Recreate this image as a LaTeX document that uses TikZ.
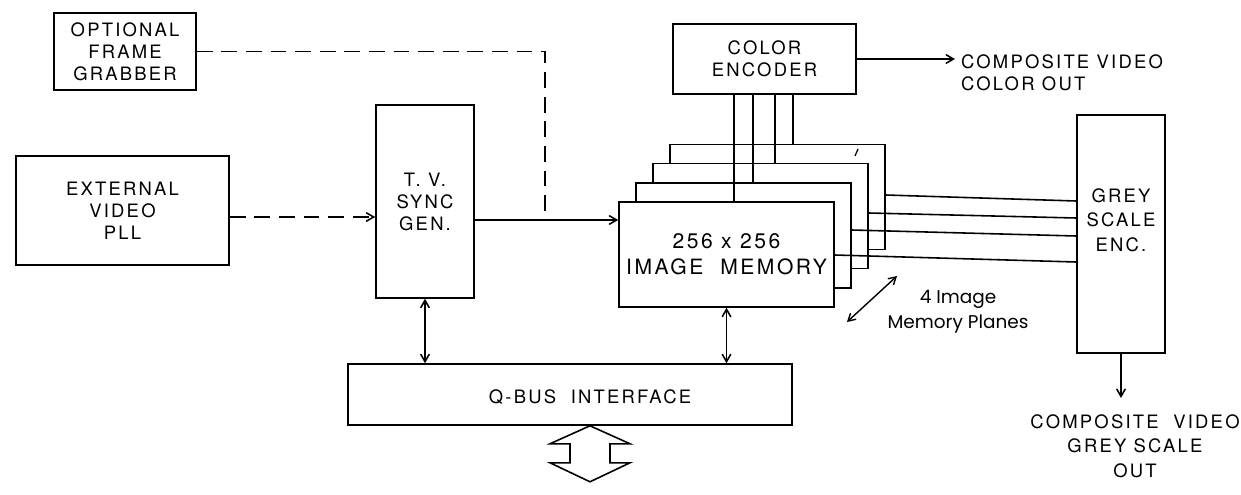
\documentclass[tikz,border=0pt]{standalone}
\usepackage{fontspec}
\setmainfont{TeX Gyre Heros}[LetterSpace=12]
\newfontfamily\planefont{Poppins}
\usepackage{tikz}
\usetikzlibrary{arrows}
\tikzstyle{blk}=[draw, fill=white, align=center, inner sep=0pt]
\tikzstyle{lbl}=[align=center, inner sep=3pt]
\begin{document}
\begin{tikzpicture}[x=0.02cm, y=-0.02cm, line width=0.9pt, >=angle 60,
  every node/.style={font=\fontsize{10.5}{12.5}\selectfont},
  dashline/.style={dash pattern=on 9pt off 5pt}]
\useasboundingbox (0,0) rectangle (1241,494);
% blocks on the left
\node[blk, minimum width=2.84cm, minimum height=1.54cm] (grabber) at (125,51.5) {OPTIONAL\\FRAME\\GRABBER};
\node[blk, minimum width=4.26cm, minimum height=2.18cm] (pll) at (122.5,210.5) {EXTERNAL\\VIDEO\\PLL};
\node[blk, minimum width=1.96cm, minimum height=3.86cm] (sync) at (425,201.5) {T. V.\\SYNC\\GEN.};
% memory planes, back to front
\foreach \n/\x/\y in {memd/777.5/197, memc/760.5/216, memb/743.5/235.5}
  \node[blk, minimum width=4.3cm, minimum height=2.1cm] (\n) at (\x,\y) {};
\node[blk, minimum width=4.3cm, minimum height=2.1cm, font=\fontsize{12}{14.7}\selectfont] (mem) at (726.5,254.5) {256 x 256\\IMAGE\ \ MEMORY};
\draw[line width=0.7pt] (855,156) -- (858,149);
\node[blk, minimum width=3.66cm, minimum height=1.4cm] (enc) at (764.5,59) {COLOR\\ENCODER};
\node[blk, minimum width=1.76cm, minimum height=4.76cm] (grey) at (1121,234) {};
\node[lbl, font=\fontsize{10.5}{14}\selectfont] (greytxt) at (1121,220) {GREY\\SCALE\\ENC.};
\node[blk, minimum width=8.88cm, minimum height=1.22cm] (qbus) at (570,394.5) {};
\node[lbl] (qbustxt) at (590,397) {Q-BUS\ \ INTERFACE};
% outputs
\node[lbl, anchor=west, align=left] (colout) at (955,72.5) {COMPOSITE VIDEO\\COLOR OUT};
\node[lbl, font=\fontsize{10.5}{14}\selectfont] (greyout) at (1135,446) {COMPOSITE\ \ VIDEO\\GREY SCALE\\OUT};
\node[lbl, font=\planefont\fontsize{10.5}{14}\selectfont] (planes) at (958,312) {4 Image\\Memory Planes};
% connections
\coordinate (vid) at (545,220);
\draw[dashline] (grabber.east) -| (vid);
\draw[dashline, ->] (pll.east |- 0,217) -- (sync.west |- 0,217);
\draw[->] (sync.east |- vid) -- (vid) -- (mem.west |- vid);
\draw[<->] (sync.south) -- (sync.south |- qbus.north);
\draw[<->] (mem.south) -- (mem.south |- qbus.north);
\foreach \x/\p in {734/mem, 753/memb, 775/memc, 793/memd}
  \draw (\x,0 |- enc.south) -- (\x,0 |- \p.north);
\foreach \p/\ya/\yb in {memd/195/201, memc/213/218, memb/230/236, mem/255/262}
  \draw (\p.east |- 0,\ya) -- (grey.west |- 0,\yb);
\draw[->] (enc.east) -- (colout.west |- enc.east);
\draw[->] (grey.south) -- (grey.south |- 0,398);
\coordinate (pla) at (847,322);
\coordinate (plb) at (897,276);
\draw[<->, line width=0.8pt] (pla) -- (plb);
% bus arrow
\draw (qbustxt |- qbus.south) -- ++(40,18) -- ++(-20,0) -- ++(0,19) -- ++(20,0)
  -- ++(-40,19) -- ++(-40,-19) -- ++(20,0) -- ++(0,-19) -- ++(-20,0) -- cycle;
\end{tikzpicture}
\end{document}
